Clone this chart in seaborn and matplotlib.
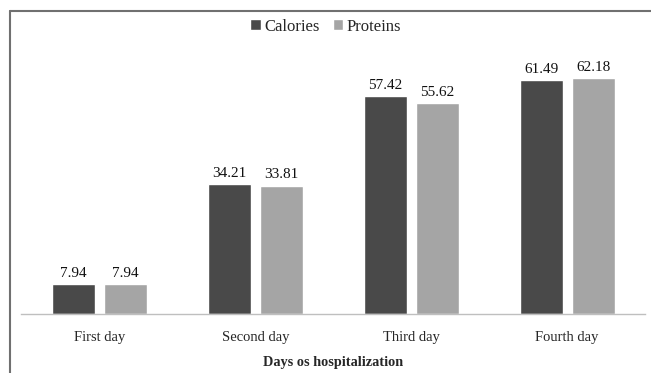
import pandas as pd
import matplotlib.pyplot as plt
import seaborn as sns
from matplotlib.lines import Line2D

days = ["First day", "Second day", "Third day", "Fourth day"]
calories = [7.94, 34.21, 57.42, 61.49]
proteins = [7.94, 33.81, 55.62, 62.18]

df = pd.DataFrame({
    "day": days * 2,
    "value": calories + proteins,
    "series": ["Calories"] * 4 + ["Proteins"] * 4,
})

sns.set_style("white")
plt.rcParams["font.family"] = ["Liberation Serif", "DejaVu Serif"]

fig = plt.figure(figsize=(6.51, 3.73), dpi=100)
ax = fig.add_axes([0.033, 0.158, 0.958, 0.713])

sns.barplot(data=df, x="day", y="value", hue="series",
            palette=["#494949", "#a5a5a5"], width=0.667, gap=0.17,
            saturation=1, ax=ax, legend=True)

# value labels
for cont in ax.containers:
    ax.bar_label(cont, fmt="%.2f", padding=3, fontsize=11, color="#111111")

ax.set_ylim(0, 70)
ax.set_xlim(-0.5, 3.5)
ax.set_yticks([])
ax.set_ylabel("")
ax.set_xlabel("Days os hospitalization", fontsize=10.3, fontweight="bold",
              labelpad=9)
ax.tick_params(axis="x", length=0, labelsize=10.5, pad=12)
for s in ["top", "right", "left"]:
    ax.spines[s].set_visible(False)
ax.spines["bottom"].set_color("#bfbfbf")
ax.spines["bottom"].set_linewidth(1)

ax.get_legend().remove()
h, l = ax.get_legend_handles_labels()
fig.legend(h, l, loc="upper center", bbox_to_anchor=(0.5, 0.99), ncol=2,
           frameon=False, fontsize=12, handlelength=0.65, handleheight=0.65,
           handletextpad=0.2, columnspacing=0.8)

# outer frame: top and left lines only
x0, y0 = 10 / 651, 1 - 11 / 373
fig.add_artist(Line2D([x0, 1.0], [y0, y0], transform=fig.transFigure,
                      color="#707070", linewidth=1.5))
fig.add_artist(Line2D([x0, x0], [0, y0], transform=fig.transFigure,
                      color="#707070", linewidth=1.5))

fig.savefig("out.png", dpi=100)
